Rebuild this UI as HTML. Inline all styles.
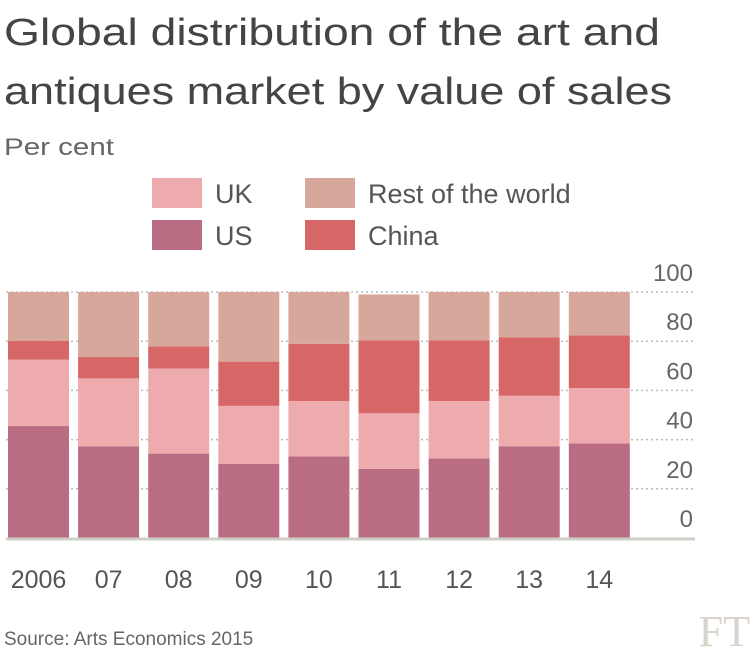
<!DOCTYPE html>
<html><head><meta charset="utf-8"><style>
body{margin:0;background:#fff;}
svg{display:block;font-family:"Liberation Sans",sans-serif;}
</style></head><body>
<svg id="chart" width="754" height="654" viewBox="0 0 754 654">
<text x="4" y="45" font-size="38" fill="#444" textLength="656" lengthAdjust="spacingAndGlyphs">Global distribution of the art and</text>
<text x="4" y="104" font-size="38" fill="#444" textLength="668" lengthAdjust="spacingAndGlyphs">antiques market by value of sales</text>
<text x="4" y="155" font-size="24" fill="#666" textLength="110" lengthAdjust="spacingAndGlyphs">Per cent</text>
<g id="legend"></g>
<g id="grid"></g><g id="bars"></g><g id="labels"></g>
<line x1="6" y1="539" x2="695" y2="539" stroke="#cfcfc8" stroke-width="3"/>
<text x="4" y="645" font-size="19" fill="#666">Source: Arts Economics 2015</text>
<text x="750" y="646" font-size="44" font-family="Liberation Serif,serif" fill="#d8d4cc" text-anchor="end">FT</text>
</svg>
<script>
const categories=["2006","07","08","09","10","11","12","13","14"];
const us=[45.5,37.3,34.3,30.2,33.2,28.1,32.3,37.3,38.4];
const uk=[27,27.6,34.6,23.5,22.5,22.6,23.4,20.5,22.5];
const china=[7.7,8.7,9,18,23.2,29.7,24.7,23.7,21.5];
const rest=[19.8,26.4,22.1,28.3,21.1,18.6,19.6,18.5,17.6];
const ticks=[0,20,40,60,80,100];
const seriesNames=["US","UK","China","Rest of the world"];
const colors=["#b96c82","#edabae","#d76767","#d8a79b"];
const NS="http://www.w3.org/2000/svg";
const y0=538,y100=292;
const y=v=>y0-(y0-y100)*v/100;
const x=i=>8+i*70.1;
const bw=61;
function mk(tag,attrs,parent){const e=document.createElementNS(NS,tag);for(const k in attrs)e.setAttribute(k,attrs[k]);parent.appendChild(e);return e;}
const grid=document.getElementById('grid'),bars=document.getElementById('bars'),labels=document.getElementById('labels'),legend=document.getElementById('legend');
ticks.forEach(t=>{
 if(t>0){const l=mk('line',{x1:6,x2:695,y1:y(t),y2:y(t),stroke:'#bbb','stroke-width':1.5,'stroke-dasharray':'2,3'},grid);
 
 }
 const tx=mk('text',{x:693,y:y(t)-11,'font-size':24,fill:'#666','text-anchor':'end'},labels);
 tx.textContent=t;
 
 
});
const series=[us,uk,china,rest];
categories.forEach((c,i)=>{
 let acc=0;
 series.forEach((s,j)=>{
  const r=mk('rect',{x:x(i),width:bw,y:y(acc+s[i]),height:y(acc)-y(acc+s[i]),fill:colors[j]},bars);
  
  
  acc+=s[i];
 });
 const t=mk('text',{x:x(i)+bw/2,y:588,'font-size':25,fill:'#555','text-anchor':'middle'},labels);
 t.textContent=c;
 
 
});
const leg=[[1,152,178],[3,305,178],[0,152,220],[2,305,220]];
leg.forEach(([j,lx,ly])=>{
 const r=mk('rect',{x:lx,y:ly,width:50,height:30,fill:colors[j]},legend);
 
 
 const t=mk('text',{x:lx+63,y:ly+25,'font-size':27,fill:'#555'},legend);
 t.textContent=seriesNames[j];
 
 
});
</script>
</body></html>
